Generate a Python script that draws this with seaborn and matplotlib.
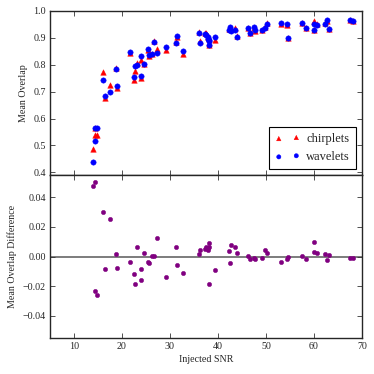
import numpy as np
import pandas as pd
import matplotlib
matplotlib.use("Agg")
import matplotlib.pyplot as plt
import seaborn as sns

# valores
snr = [14.0, 14.4, 14.4, 14.8, 16.0, 16.45, 17.6, 18.8, 18.9, 21.7,
       22.5, 22.8, 23.2, 23.9, 23.9, 24.6, 25.4, 25.7, 26.3, 26.7,
       27.3, 29.1, 31.2, 31.5, 32.8, 36.1, 36.3, 37.2, 37.5, 37.9,
       38.1, 38.2, 37.9, 38.2, 39.4, 42.2, 42.6, 42.7, 43.6, 43.9,
       46.3, 46.6, 47.5, 47.8, 49.1, 49.8, 50.3, 53.2, 54.4, 54.5,
       57.6, 58.3, 60.0, 60.1, 60.7, 62.3, 62.8, 63.2, 67.5, 68.2]

wavelets = [0.438, 0.515, 0.563, 0.563, 0.743, 0.683, 0.699, 0.785, 0.721, 0.848,
            0.755, 0.796, 0.799, 0.833, 0.757, 0.801, 0.857, 0.836, 0.840, 0.886,
            0.844, 0.867, 0.879, 0.907, 0.849, 0.919, 0.882, 0.914, 0.909, 0.897,
            0.887, 0.872, 0.902, 0.893, 0.902, 0.927, 0.939, 0.925, 0.929, 0.903,
            0.935, 0.919, 0.939, 0.927, 0.929, 0.935, 0.950, 0.956, 0.951, 0.898,
            0.954, 0.938, 0.951, 0.927, 0.947, 0.951, 0.965, 0.933, 0.966, 0.964]

chirplets = [0.486, 0.565, 0.539, 0.537, 0.773, 0.675, 0.724, 0.787, 0.713, 0.844,
             0.743, 0.777, 0.806, 0.817, 0.749, 0.804, 0.853, 0.831, 0.840, 0.887,
             0.857, 0.853, 0.885, 0.901, 0.838, 0.921, 0.887, 0.919, 0.916, 0.903,
             0.896, 0.879, 0.907, 0.874, 0.893, 0.931, 0.935, 0.933, 0.936, 0.906,
             0.936, 0.918, 0.938, 0.925, 0.928, 0.939, 0.953, 0.952, 0.949, 0.898,
             0.955, 0.936, 0.961, 0.930, 0.950, 0.953, 0.963, 0.934, 0.965, 0.963]

diferencia = [0.0478, 0.0503, -0.0236, -0.0260, 0.0299, -0.0083, 0.0252, 0.0020, -0.0076, -0.0036,
              -0.0119, -0.0186, 0.0065, -0.0157, -0.0081, 0.0027, -0.0036, -0.0047, 0.0003, 0.0005,
              0.0126, -0.0139, 0.0061, -0.0058, -0.0114, 0.0016, 0.0047, 0.0050, 0.0065, 0.0060,
              0.0092, 0.0065, 0.0045, -0.0186, -0.0088, 0.0038, -0.0045, 0.0079, 0.0065, 0.0025,
              0.0005, -0.0015, -0.0009, -0.0020, -0.0007, 0.0043, 0.0027, -0.0036, -0.0018, 0.0000,
              0.0005, -0.0018, 0.0101, 0.0032, 0.0027, 0.0016, -0.0024, 0.0011, -0.0007, -0.0007]

df = pd.DataFrame({"snr": snr, "chirplets": chirplets,
                   "wavelets": wavelets, "diff": diferencia})

sns.set_style("ticks")
plt.rcParams["font.family"] = ["Liberation Serif", "DejaVu Serif"]
plt.rcParams["font.size"] = 7.2
plt.rcParams["axes.unicode_minus"] = True

fig = plt.figure(figsize=(3.74, 3.74), dpi=100)
ax1 = fig.add_axes([0.1337, 0.532, 0.834, 0.439])
ax2 = fig.add_axes([0.1337, 0.0963, 0.834, 0.4357])

sns.scatterplot(x="snr", y="chirplets", data=df, ax=ax1, marker="^", color="red",
                s=16, edgecolor="red", linewidth=0.3, label="chirplets")
sns.scatterplot(x="snr", y="wavelets", data=df, ax=ax1, marker="o", color="blue",
                s=15, edgecolor="blue", linewidth=0.3, label="wavelets")
ax1.set_xlim(5, 70)
ax1.set_ylim(0.39, 1.0)
ax1.set_yticks([0.4, 0.5, 0.6, 0.7, 0.8, 0.9, 1.0])
ax1.set_xticks([10, 20, 30, 40, 50, 60, 70])
ax1.set_xticklabels([])
ax1.set_xlabel("")
ax1.set_ylabel("Mean Overlap", labelpad=4)
leg = ax1.legend(loc="lower right", scatterpoints=2, fancybox=False,
                 edgecolor="black", framealpha=1, borderpad=0.45,
                 handletextpad=0.5, markerscale=0.8, fontsize=9,
                 borderaxespad=0.5)
leg.get_frame().set_linewidth(0.8)

sns.scatterplot(x="snr", y="diff", data=df, ax=ax2, marker="o", color="purple",
                s=10, edgecolor="purple", linewidth=0.3)
ax2.axhline(0, color="0.35", linewidth=1.1, zorder=0)
ax2.set_xlim(5, 70)
ax2.set_ylim(-0.055, 0.055)
ax2.set_yticks([-0.04, -0.02, 0.0, 0.02, 0.04])
ax2.set_yticklabels(["\u22120.04", "\u22120.02", "0.00", "0.02", "0.04"])
ax2.set_xticks([10, 20, 30, 40, 50, 60, 70])
ax2.set_xlabel("Injected SNR", labelpad=3)
ax2.set_ylabel("Mean Overlap Difference", labelpad=4)

for ax in (ax1, ax2):
    ax.tick_params(direction="in", top=True, right=True, length=3.5,
                   width=0.6, color="0.2", labelsize=7.2, pad=3)
    for sp in ax.spines.values():
        sp.set_linewidth(1.0)
        sp.set_color("0.15")

fig.savefig("out.png", dpi=100)
